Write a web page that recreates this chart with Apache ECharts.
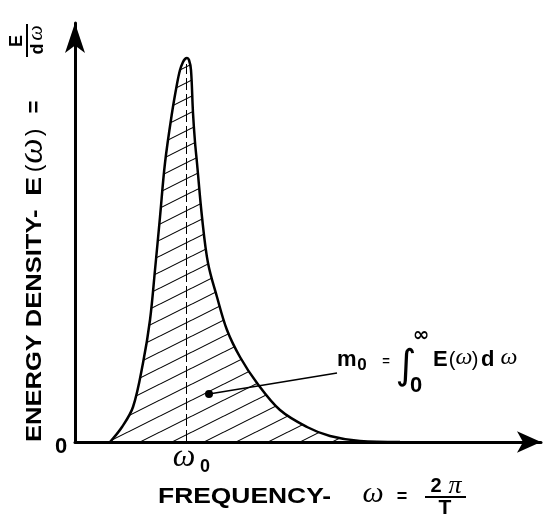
<!DOCTYPE html>
<html><head><meta charset="utf-8">
<script src="https://cdn.jsdelivr.net/npm/echarts@6/dist/echarts.min.js"></script>
<style>html,body{margin:0;padding:0;background:#fff}#c{width:554px;height:518px}</style>
</head><body><div id="c"></div>
<script>
// ---- data (arbitrary units) ----
const frequency = [35, 47, 58, 68, 75, 80, 85, 90, 97, 102, 105, 108, 110, 112, 114, 116, 118, 120, 122, 127, 133, 142, 152, 165, 182, 205, 232, 255, 285, 325];
const energy    = [0, 15, 35, 79, 122, 172, 225, 279, 329, 358, 372, 380, 383, 384, 382, 372, 329, 300, 279, 225, 179, 145, 112, 85, 59, 32, 15, 6, 1, 0];
const omega0 = 111;
const peakMarker = 378;
const dotPoint = [134, 48];
const leaderEnd = [262, 69];
const xMax = 466;
const yMax = 419;
const originLabel = '0';
const xTickLabel = ['ω', '0'];
const yTitle = ['ENERGY DENSITY-', 'E', '(', 'ω', ')', '=', 'E', 'd', 'ω'];
const xTitle = ['FREQUENCY-', 'ω', '=', '2', 'π', 'T'];
const annot = ['m', '0', '=', '∫', '∞', '0', 'E', '(', 'ω', ')', 'd', 'ω'];

// hatch pattern
const pat = document.createElement('canvas');
pat.width = 32; pat.height = 16;
const g = pat.getContext('2d');
g.strokeStyle = '#000'; g.lineWidth = 1.1;
for (let k = -1; k <= 1; k++) { g.beginPath(); g.moveTo(0, 16 + 16 * k); g.lineTo(32, 16 * k); g.stroke(); }

const SANS = '"Liberation Sans", Arial, sans-serif';
const SERIF = '"Liberation Serif", "DejaVu Serif", serif';
function txt(text, x, y, font, opts) {
  opts = opts || {};
  return Object.assign({
    type: 'text', x: x, y: y,
    style: { text: text, font: font, fill: '#000', align: opts.align || 'left', verticalAlign: 'middle',
             textAlign: opts.align || 'left', textVerticalAlign: 'middle' }
  }, opts.extra || {});
}

const chart = echarts.init(document.getElementById('c'), null, { renderer: 'canvas' });
chart.setOption({
  animation: false,
  backgroundColor: '#fff',
  grid: { left: 75, right: 554 - 541, top: 23, bottom: 518 - 442, containLabel: false },
  xAxis: {
    type: 'value', min: 0, max: xMax,
    axisLine: { show: true, onZero: false, symbol: ['none', 'arrow'], symbolSize: [16, 24], lineStyle: { color: '#000', width: 3 } },
    axisTick: { show: false }, axisLabel: { show: false }, splitLine: { show: false }
  },
  yAxis: {
    type: 'value', min: 0, max: yMax,
    axisLine: { show: true, onZero: false, symbol: ['none', 'arrow'], symbolSize: [15, 30], lineStyle: { color: '#000', width: 3 } },
    axisTick: { show: false }, axisLabel: { show: false }, splitLine: { show: false }
  },
  series: [
    {
      type: 'line', data: frequency.map((f, i) => [f, energy[i]]),
      smooth: 0.35, symbol: 'none', z: 2,
      lineStyle: { color: '#000', width: 2.5 },
      areaStyle: { color: { image: pat, repeat: 'repeat' }, opacity: 1 },
      markLine: {
        silent: true, symbol: ['none', 'none'], label: { show: false },
        lineStyle: { color: '#000', width: 1, type: [12, 4] },
        data: [[{ coord: [omega0, 0] }, { coord: [omega0, peakMarker] }]]
      }
    },
    {
      type: 'line', z: 3,
      data: [{ value: dotPoint, symbol: 'circle', symbolSize: 8 }, { value: leaderEnd, symbol: 'none', symbolSize: 0 }],
      showSymbol: true, lineStyle: { color: '#000', width: 1.5 }, itemStyle: { color: '#000' }
    }
  ],
  graphic: { elements: [
    txt(originLabel, 61, 447, 'bold 22px ' + SANS, { align: 'center' }),
    txt(xTickLabel[0], 184, 458, 'italic 32px ' + SERIF, { align: 'center' }),
    txt(xTickLabel[1], 205, 467, 'bold 18px ' + SANS, { align: 'center' }),
    // y title (rotated)
    { type: 'group', x: 35, y: 442, rotation: Math.PI / 2, children: [
      txt(yTitle[0], 0, 0, 'bold 22px ' + SANS, { extra: { scaleX: 1.16 } }),
      txt(yTitle[1], 246, 0, 'bold 22px ' + SANS, { extra: { scaleX: 1.3 } }),
      txt(yTitle[2], 270, 0, '22px ' + SANS),
      txt(yTitle[3], 291, -2, 'italic 36px ' + SERIF, { align: 'center' }),
      txt(yTitle[4], 306, 0, '22px ' + SANS),
      txt(yTitle[5], 335, 0, 'bold 22px ' + SANS, { align: 'center' }),
      { type: 'line', shape: { x1: 385, y1: -8, x2: 418, y2: -8 }, style: { stroke: '#000', lineWidth: 2 } },
      txt(yTitle[6], 401, -18, 'bold 18px ' + SANS, { align: 'center' }),
      txt(yTitle[7], 393, 3, 'bold 18px ' + SANS, { align: 'center' }),
      txt(yTitle[8], 409, 1, 'italic 22px ' + SERIF, { align: 'center' })
    ]},
    // x title
    txt(xTitle[0], 158, 497, 'bold 22px ' + SANS, { extra: { scaleX: 1.2 } }),
    txt(xTitle[1], 373, 494, 'italic 30px ' + SERIF, { align: 'center' }),
    txt(xTitle[2], 402, 497, 'bold 18px ' + SANS, { align: 'center' }),
    txt(xTitle[3], 436, 486, 'bold 20px ' + SANS, { align: 'center' }),
    txt(xTitle[4], 455, 486, 'italic 26px ' + SERIF, { align: 'center' }),
    { type: 'line', shape: { x1: 425, y1: 497, x2: 466, y2: 497 }, style: { stroke: '#000', lineWidth: 2 } },
    txt(xTitle[5], 445, 508, 'bold 21px ' + SANS, { align: 'center' }),
    // annotation
    txt(annot[0], 337, 360, 'bold 22px ' + SANS),
    txt(annot[1], 362, 365, 'bold 17px ' + SANS, { align: 'center' }),
    txt(annot[2], 386, 361, 'bold 13px ' + SANS, { align: 'center' }),
    txt(annot[3], 406, 368, '40px "DejaVu Sans", sans-serif', { align: 'center' }),
    txt(annot[4], 421, 336, 'bold 20px "DejaVu Sans", sans-serif', { align: 'center' }),
    txt(annot[5], 416, 386, 'bold 22px ' + SANS, { align: 'center' }),
    txt(annot[6], 433, 360, 'bold 22px ' + SANS),
    txt(annot[7], 452, 360, '20px ' + SANS, { align: 'center' }),
    txt(annot[8], 464, 358, 'italic 24px ' + SERIF, { align: 'center' }),
    txt(annot[9], 475, 360, '20px ' + SANS, { align: 'center' }),
    txt(annot[10], 481, 360, 'bold 22px ' + SANS),
    txt(annot[11], 509, 358, 'italic 24px ' + SERIF, { align: 'center' })
  ]}
});
</script></body></html>
